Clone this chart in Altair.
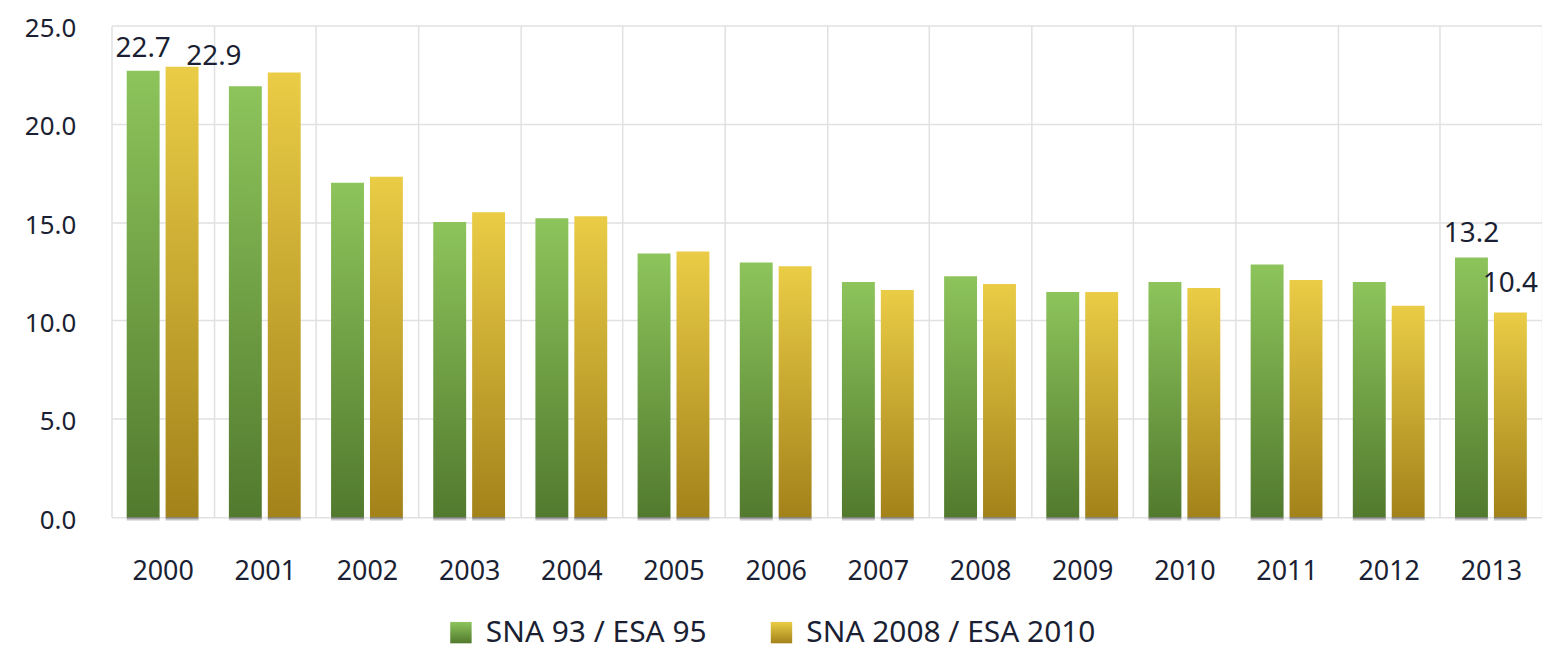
import altair as alt
import pandas as pd

years = [str(y) for y in range(2000, 2014)]
series = ["SNA 93 / ESA 95", "SNA 2008 / ESA 2010"]
sna93 = [22.7, 21.9, 17.0, 15.0, 15.2, 13.4, 12.95, 11.95, 12.25, 11.45, 11.95, 12.85, 11.95, 13.2]
sna2008 = [22.9, 22.6, 17.3, 15.5, 15.3, 13.5, 12.75, 11.55, 11.85, 11.45, 11.65, 12.05, 10.75, 10.4]
y_ticks = [0, 5, 10, 15, 20, 25]

rows = []
for i, yr in enumerate(years):
    rows.append({"year": yr, "series": series[0], "value": sna93[i]})
    rows.append({"year": yr, "series": series[1], "value": sna2008[i]})
df = pd.DataFrame(rows)

FONT = "Noto Sans"
TXT = "#1b1f33"
GRID = "#e1e1e1"

grad_green = ("{gradient: 'linear', x1: 0, y1: 1, x2: 0, y2: 0, "
              "stops: [{offset: 0, color: '#527a2e'}, {offset: 1, color: '#8dc45b'}]}")
grad_yellow = ("{gradient: 'linear', x1: 0, y1: 1, x2: 0, y2: 0, "
               "stops: [{offset: 0, color: '#a3821a'}, {offset: 1, color: '#eacc46'}]}")

bottom_shadow = alt.Gradient(
    gradient="linear", x1=0, y1=0, x2=0, y2=1,
    stops=[alt.GradientStop(offset=0, color="rgba(0,0,0,0.5)"),
           alt.GradientStop(offset=1, color="rgba(0,0,0,0)")],
)

x_enc = alt.X(
    "year:N", sort=years,
    scale=alt.Scale(paddingInner=0, paddingOuter=0),
    axis=alt.Axis(title=None, labelAngle=0, ticks=False, domain=False, grid=True,
                  tickBand="extent", gridColor=GRID, gridWidth=1.5,
                  labelPadding=42, labelFontSize=27, labelFont=FONT, labelColor=TXT),
)
xoff_enc = alt.XOffset("series:N", sort=series,
                       scale=alt.Scale(domain=series, paddingInner=0.154, paddingOuter=0.39))
y_enc = alt.Y(
    "value:Q",
    scale=alt.Scale(domain=[0, 25], nice=False),
    axis=alt.Axis(title=None, values=y_ticks, format=".1f", ticks=False, domain=False,
                  grid=True, gridColor=GRID, gridWidth=1.5, labelPadding=36, labelOffset=3,
                  labelFontSize=26, labelFont=FONT, labelColor=TXT),
)

base = alt.Chart(df)

bars = base.mark_bar().encode(
    x=x_enc,
    xOffset=xoff_enc,
    y=y_enc,
    color=alt.Color(
        "series:N", sort=series,
        scale=alt.Scale(domain=series,
                        range=[alt.ExprRef(expr=grad_green), alt.ExprRef(expr=grad_yellow)]),
        legend=alt.Legend(title=None, orient="none", legendX=336, legendY=595,
                          direction="horizontal", symbolType="square", symbolSize=462,
                          symbolStrokeWidth=0, labelFont=FONT, labelFontSize=30,
                          labelColor=TXT, labelLimit=500, labelOffset=10,
                          columnPadding=60, padding=0),
    ),
)

shadow_bottom = base.mark_bar(fill=bottom_shadow, width=alt.RelativeBandSize(1.0)).encode(
    x=alt.X("year:N", sort=years),
    xOffset=alt.XOffset("series:N", sort=series),
    y=alt.datum(0),
    y2=alt.datum(-0.22),
)


def label(year, s, dx, dy):
    return base.transform_filter(
        (alt.datum.year == year) & (alt.datum.series == s)
    ).mark_text(font=FONT, fontSize=28, color=TXT, baseline="alphabetic",
                align="center", dx=dx, dy=dy).encode(
        x=alt.X("year:N", sort=years),
        xOffset=alt.XOffset("series:N", sort=series),
        y=alt.Y("value:Q"),
        text=alt.Text("value:Q", format=".1f"),
    )


chart = alt.layer(
    bars,
    shadow_bottom,
    label("2000", series[0], 0, -14),
    label("2000", series[1], 32, -2),
    label("2013", series[0], 0, -16),
    label("2013", series[1], 0, -21),
).properties(
    width=1437, height=494,
    autosize=alt.AutoSizeParams(type="none"),
    padding={"left": 104, "top": 16, "right": 0, "bottom": 135},
).configure_view(stroke=None)

chart.save("out.html", embed_options={"renderer": "svg", "actions": False})
